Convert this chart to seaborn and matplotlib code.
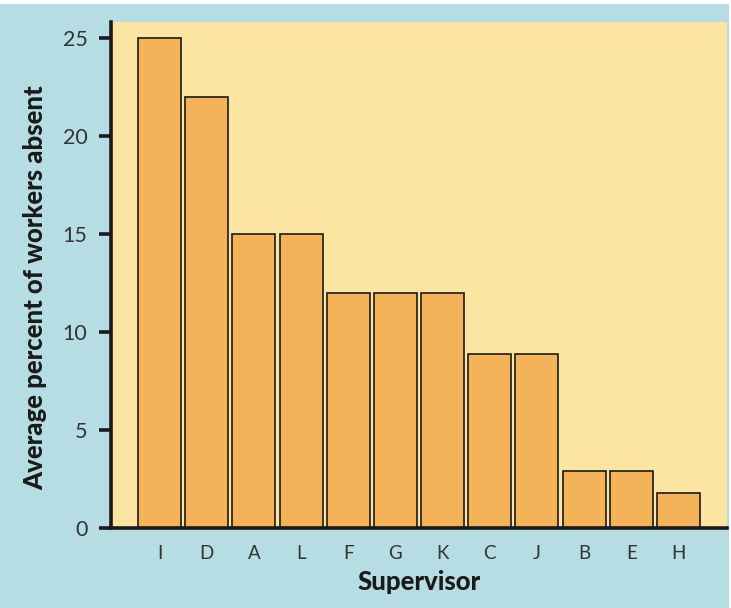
import matplotlib
matplotlib.use("Agg")
import matplotlib.pyplot as plt
from matplotlib.patches import Rectangle
import seaborn as sns
import pandas as pd

# Average absenteeism by supervisor, sorted from highest to lowest
supervisors = ["I", "D", "A", "L", "F", "G", "K", "C", "J", "B", "E", "H"]
absent_pct = [25, 22, 15, 15, 12, 12, 12, 8.9, 8.9, 2.9, 2.9, 1.8]
y_ticks = [0, 5, 10, 15, 20, 25]

BLUE = "#b6dde3"
YELLOW = "#fce4a2"
ORANGE = "#f4b358"
INK = "#1a1a1a"

sns.set_theme(style="white")
plt.rcParams["font.family"] = ["Lato", "DejaVu Sans"]

df = pd.DataFrame({"Supervisor": supervisors, "Absent": absent_pct})

fig = plt.figure(figsize=(7.31, 6.08), dpi=100, facecolor="white")
# light blue panel behind the chart
fig.patches.append(Rectangle((0, 0), 729 / 731, 604 / 608, transform=fig.transFigure,
                             facecolor=BLUE, edgecolor="none", zorder=-10))

ax = fig.add_axes([111 / 731, 1 - 528 / 608, 616 / 731, 506 / 608])
ax.set_facecolor(YELLOW)

sns.barplot(data=df, x="Supervisor", y="Absent", order=supervisors,
            color=ORANGE, saturation=1, edgecolor=INK, linewidth=1.2,
            width=0.91, ax=ax)

ax.set_xlim(-1.03, len(supervisors) - 1 + 1.03)
ax.set_ylim(0, 25.82)
ax.set_yticks(y_ticks)

for side in ("top", "right"):
    ax.spines[side].set_visible(False)
for side in ("left", "bottom"):
    ax.spines[side].set_color(INK)
    ax.spines[side].set_linewidth(2.6)

ax.tick_params(axis="y", which="major", direction="out", length=9, width=2.6,
               color=INK, pad=8, labelsize=15.5, labelcolor="#333333", left=True)
ax.tick_params(axis="x", which="major", length=0, pad=12,
               labelsize=13.5, labelcolor="#333333", bottom=False)

ax.set_xlabel("Supervisor", fontsize=18.5, fontweight="black", color=INK, labelpad=6)
ax.set_ylabel("Average percent of workers absent", fontsize=18.5, fontweight="black",
              color=INK)
ax.yaxis.set_label_coords(-0.104, 0.475)

fig.savefig("out.png", dpi=100, facecolor=fig.get_facecolor())
